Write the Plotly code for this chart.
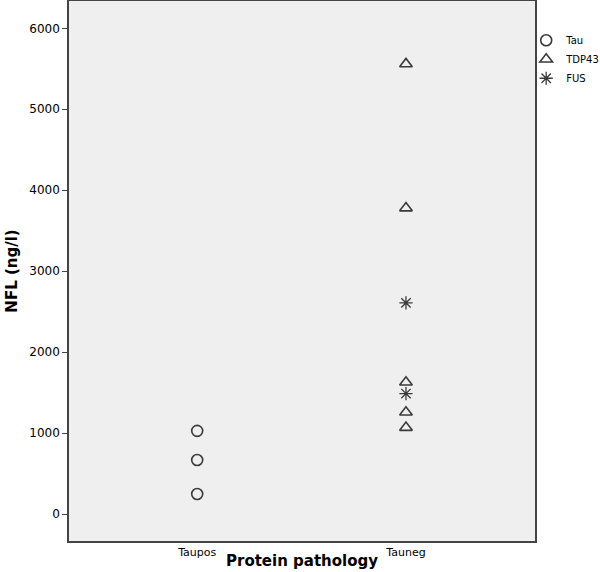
import plotly.graph_objects as go

groups = ["Taupos", "Tauneg"]

tau_group = [0, 0, 0]
tau_nfl = [1030, 670, 250]

tdp43_group = [1, 1, 1, 1, 1]
tdp43_nfl = [5560, 3780, 1630, 1260, 1070]

fus_group = [1, 1]
fus_nfl = [2610, 1490]

mark = "#3a3a3a"
font = "DejaVu Sans"

fig = go.Figure()
fig.add_trace(go.Scatter(x=tau_group, y=tau_nfl, mode="markers", name="Tau",
                         marker=dict(symbol="circle-open", size=11, color=mark, line=dict(width=1.6))))
fig.add_trace(go.Scatter(x=tdp43_group, y=tdp43_nfl, mode="markers", name="TDP43",
                         marker=dict(symbol="triangle-up-open", size=11, color=mark, line=dict(width=1.6))))
fig.add_trace(go.Scatter(x=fus_group, y=fus_nfl, mode="markers", name="FUS",
                         marker=dict(symbol="asterisk-open", size=11, color=mark, line=dict(width=1.3))))

fig.update_layout(
    width=600, height=572,
    margin=dict(l=69, r=65, t=1, b=31, autoexpand=False),
    paper_bgcolor="white",
    plot_bgcolor="#efefef",
    font=dict(family=font, size=11, color="black"),
    legend=dict(x=0.877, y=0.955, xref="container", yref="container",
                xanchor="left", yanchor="top",
                bgcolor="rgba(0,0,0,0)", font=dict(size=10), itemwidth=30,
                tracegroupgap=0),
    xaxis=dict(range=[-0.614, 1.618], tickvals=[0, 1], ticktext=groups,
               showgrid=False, zeroline=False, showline=True, linecolor="#444",
               linewidth=1.5, mirror=True, ticks="", tickfont=dict(size=11)),
    yaxis=dict(range=[-330, 6337], tickvals=[0, 1000, 2000, 3000, 4000, 5000, 6000],
               showgrid=False, zeroline=False, showline=True, linecolor="#444",
               linewidth=1.5, mirror=True, ticks="outside", ticklen=5, tickcolor="#444",
               tickfont=dict(size=12),
               title=dict(text="<b>NFL (ng/l)</b>", font=dict(size=15), standoff=8)),
)

fig.add_annotation(text="<b>Protein pathology</b>", xref="paper", yref="paper",
                   x=0.5, y=0, yshift=-20, showarrow=False, font=dict(size=15),
                   xanchor="center", yanchor="middle")

fig.write_html("out.html", config={"displayModeBar": False},
               post_script="document.body.style.margin='0';")
